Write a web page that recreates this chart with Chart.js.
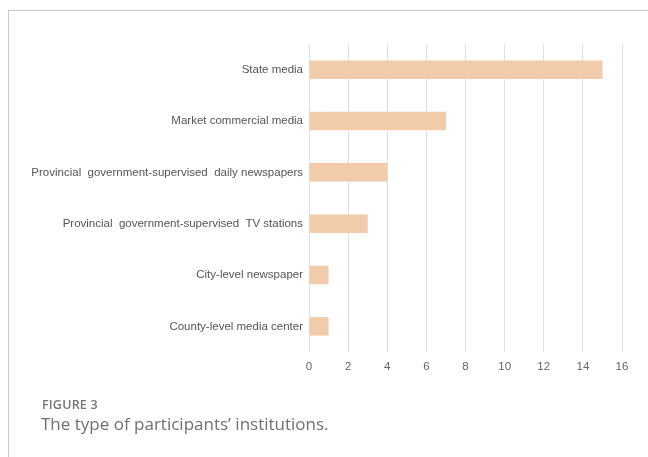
<!DOCTYPE html>
<html>
<head>
<meta charset="utf-8">
<script src="https://cdn.jsdelivr.net/npm/chart.js@4"></script>
<style>
html,body{margin:0;padding:0;background:#fff;}
#wrap{position:relative;width:648px;height:457px;overflow:hidden;}
#frame{position:absolute;left:8px;top:10px;width:660px;height:470px;border-left:1px solid #c8c8c8;border-top:1px solid #c8c8c8;}
#c{position:absolute;left:0;top:0;}
#fig{position:absolute;left:42px;top:396px;font-family:"Open Sans",sans-serif;font-size:12.5px;font-weight:600;color:#757575;letter-spacing:0.2px;}
#cap{position:absolute;left:41px;top:412px;font-family:"Open Sans",sans-serif;font-size:17px;color:#707070;}
</style>
</head>
<body>
<div id="wrap">
<div id="frame"></div>
<canvas id="c" width="648" height="457"></canvas>
<div id="fig">FIGURE 3</div>
<div id="cap">The type of participants’ institutions.</div>
</div>
<script>
const categories = [
  "State media",
  "Market commercial media",
  "Provincial  government-supervised  daily newspapers",
  "Provincial  government-supervised  TV stations",
  "City-level newspaper",
  "County-level media center"
];
const counts = [15, 7, 4, 3, 1, 1];
const xTicks = [0, 2, 4, 6, 8, 10, 12, 14, 16];

new Chart(document.getElementById('c'), {
  type: 'bar',
  data: {
    labels: categories,
    datasets: [{
      data: counts,
      backgroundColor: '#F2CBAA',
      borderWidth: 0,
      barPercentage: 0.36,
      categoryPercentage: 1.0
    }]
  },
  options: {
    indexAxis: 'y',
    responsive: false,
    animation: false,
    layout: { padding: { left: 10, right: 26, top: 44, bottom: 75 } },
    plugins: { legend: { display: false }, tooltip: { enabled: false } },
    scales: {
      x: {
        min: 0, max: 16,
        afterBuildTicks: s => { s.ticks = xTicks.map(v => ({ value: v })); },
        afterFit: s => { s.height = 30; },
        grid: { color: '#e0e0e0', drawTicks: false, lineWidth: 1 },
        border: { display: false },
        ticks: { padding: 8, color: '#666', font: { family: 'Liberation Sans, Arial, sans-serif', size: 11.5 } }
      },
      y: {
        afterFit: s => { s.width = 299; },
        grid: { display: false, drawTicks: false },
        border: { display: false },
        ticks: { padding: 6, color: '#555', font: { family: 'Liberation Sans, Arial, sans-serif', size: 11.5 } }
      }
    }
  }
});
</script>
</body>
</html>
